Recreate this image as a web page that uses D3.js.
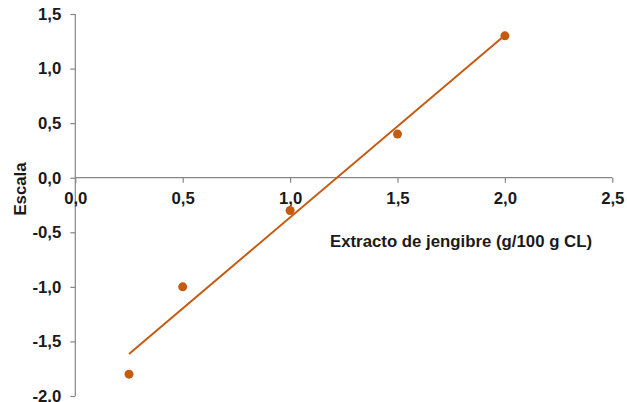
<!DOCTYPE html>
<html><head><meta charset="utf-8">
<script src="https://cdn.jsdelivr.net/npm/d3@7"></script>
<style>body{margin:0;background:#fff}svg{display:block}text{font-family:"Liberation Sans",Arial,sans-serif;font-weight:bold;fill:#1a1a1a}</style>
</head><body>
<script>
const xValues = [0.25, 0.5, 1.0, 1.5, 2.0];
const yValues = [-1.8, -1.0, -0.3, 0.4, 1.3];
const xTicks = [0, 0.5, 1.0, 1.5, 2.0, 2.5];
const xTickLabels = ["0,0", "0,5", "1,0", "1,5", "2,0", "2,5"];
const yTicks = [-2.0, -1.5, -1.0, -0.5, 0, 0.5, 1.0, 1.5];
const yTickLabels = ["-2.0", "-1,5", "-1,0", "-0,5", "0,0", "0,5", "1,0", "1,5"];
const xTitle = "Extracto de jengibre (g/100 g CL)";
const yTitle = "Escala";

const W = 627, H = 402, FS = 16.8;
const color = "#C55A11", axisColor = "#868686";
const svg = d3.select("body").append("svg").attr("width", W).attr("height", H);
const x = d3.scaleLinear().domain([0, 2.5]).range([75.3, 612.3]);
const y = d3.scaleLinear().domain([-2, 1.5]).range([396, 14]);

const styleText = sel => sel.attr("font-size", FS).attr("fill", "#1a1a1a")
  .style("font-family", '"Liberation Sans",Arial,sans-serif').style("font-weight", "bold");

// y axis
const ya = svg.append("g").attr("transform", `translate(${x(0)},0)`)
  .call(d3.axisLeft(y).tickValues(yTicks).tickSize(5).tickPadding(9)
    .tickFormat((d, i) => yTickLabels[i]));
ya.selectAll("path,line").attr("stroke", axisColor).attr("stroke-width", 1.2);
ya.select(".domain").attr("d", `M0,${y(1.5)}V${y(-2)}`);
styleText(ya.selectAll("text"));

// x axis at y=0
const xa = svg.append("g").attr("transform", `translate(0,${y(0)})`)
  .call(d3.axisBottom(x).tickValues(xTicks).tickSize(5).tickPadding(9)
    .tickFormat((d, i) => xTickLabels[i]));
xa.selectAll("path,line").attr("stroke", axisColor).attr("stroke-width", 1.2);
xa.select(".domain").attr("d", `M${x(0)},0H${x(2.5)}`);
styleText(xa.selectAll("text"));

// trend line (least squares)
const mx = d3.mean(xValues), my = d3.mean(yValues);
const sxy = d3.sum(xValues.map((v, i) => (v - mx) * (yValues[i] - my)));
const sxx = d3.sum(xValues.map(v => (v - mx) ** 2));
const b = sxy / sxx, a = my - b * mx;
const x0 = d3.min(xValues), x1 = d3.max(xValues);
svg.append("line").attr("x1", x(x0)).attr("y1", y(a + b * x0)).attr("x2", x(x1)).attr("y2", y(a + b * x1))
  .attr("stroke", color).attr("stroke-width", 2);

// points
svg.selectAll("circle.pt").data(xValues).enter().append("circle")
  .attr("cx", d => x(d)).attr("cy", (d, i) => y(yValues[i])).attr("r", 4.5).attr("fill", color);

// titles
styleText(svg.append("text").attr("x", 461).attr("y", 247).attr("text-anchor", "middle").text(xTitle));
styleText(svg.append("text").attr("transform", "translate(26,189) rotate(-90)").attr("text-anchor", "middle").text(yTitle));
</script>
</body></html>
